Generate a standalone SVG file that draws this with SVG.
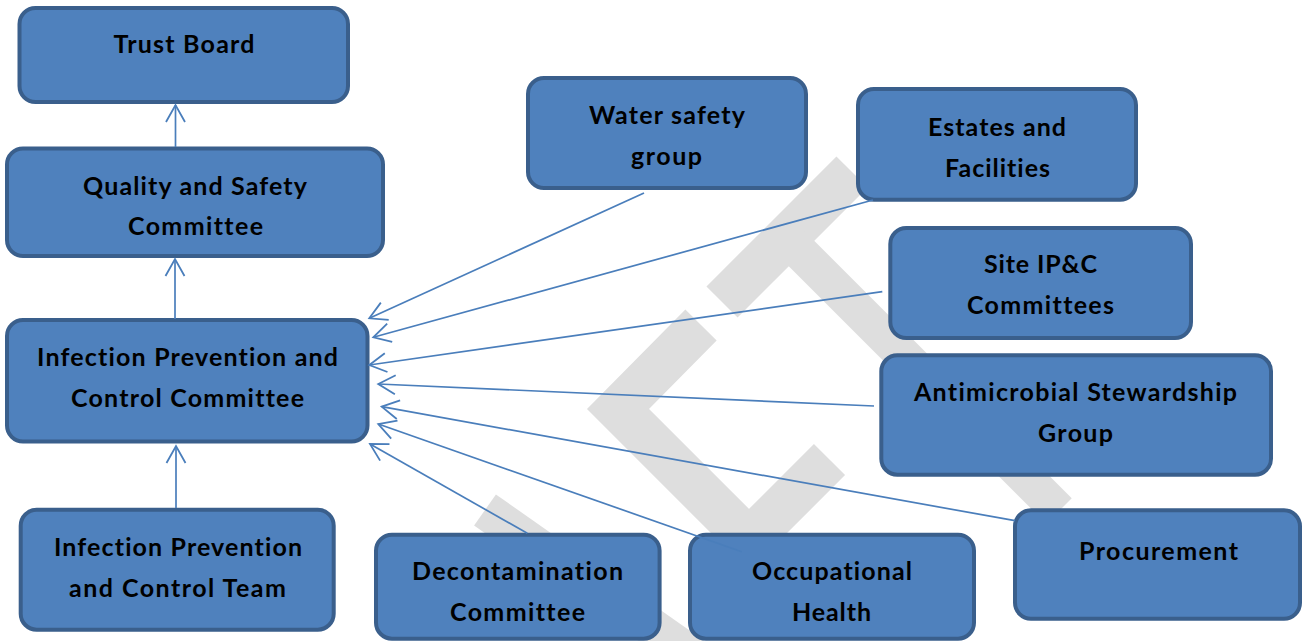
<svg xmlns="http://www.w3.org/2000/svg" width="1303" height="641" viewBox="0 0 1303 641">
<defs>
<style>
.box rect{fill:#4f81bd;stroke:#3a5f8c;stroke-width:4}
.box text{font-family:"Lato","Open Sans",sans-serif;font-weight:bold;font-size:25px;fill:#000;text-anchor:middle;font-variant-ligatures:none;font-feature-settings:"liga" 0}
.wm{fill:none;stroke:#dedede;stroke-linecap:butt;stroke-linejoin:miter}
.conn line{stroke:#4a7ebb;stroke-width:1.7;marker-end:url(#ah)}
</style>
<marker id="ah" markerUnits="userSpaceOnUse" markerWidth="22" markerHeight="22" refX="18" refY="10" orient="auto" overflow="visible">
<path d="M1,0.5 L18,10 L1,19.5" fill="none" stroke="#4a7ebb" stroke-width="1.8"/>
</marker>
</defs>
<rect width="1303" height="641" fill="#fff"/>
<g id="watermark">
<line class="wm" x1="852" y1="172" x2="722" y2="302" stroke-width="44"/>
<line class="wm" x1="792" y1="244" x2="1059" y2="511" stroke-width="36"/>
<polyline class="wm" points="701,325 618,409 749,540 829.5,459.5" stroke-width="44"/>
<line class="wm" x1="485" y1="510" x2="710" y2="668" stroke-width="38"/>
</g>
<g id="trust" class="box"><rect x="19.5" y="8" width="328.5" height="94" rx="16"/><text x="184" y="53" textLength="141">Trust Board</text></g>
<g id="qsc" class="box"><rect x="7" y="148.5" width="376" height="107.5" rx="16"/><text x="195" y="194.5" textLength="224">Quality and Safety</text><text x="195.5" y="235" textLength="135">Committee</text></g>
<g id="ipcc" class="box"><rect x="7" y="320" width="360.5" height="121.5" rx="16"/><text x="187.5" y="366" textLength="301">Infection Prevention and</text><text x="187.5" y="406.5" textLength="233">Control Committee</text></g>
<g id="ipct" class="box"><rect x="20.7" y="509.7" width="313" height="120" rx="16"/><text x="178" y="556" textLength="248">Infection Prevention</text><text x="177.5" y="596.5" textLength="217">and Control Team</text></g>
<g id="decon" class="box"><rect x="376" y="534.7" width="283.6" height="104" rx="16"/><text x="517.5" y="580" textLength="211">Decontamination</text><text x="517.5" y="621" textLength="135">Committee</text></g>
<g id="occ" class="box"><rect x="690" y="534.7" width="284" height="104" rx="16"/><text x="832" y="580" textLength="160">Occupational</text><text x="831.5" y="621" textLength="79">Health</text></g>
<g id="proc" class="box"><rect x="1015" y="510.3" width="285" height="108.5" rx="16"/><text x="1158.5" y="560" textLength="159">Procurement</text></g>
<g id="ams" class="box"><rect x="881.3" y="355.3" width="389.7" height="119.4" rx="16"/><text x="1075.5" y="401" textLength="323">Antimicrobial Stewardship</text><text x="1075.5" y="442" textLength="75">Group</text></g>
<g id="site" class="box"><rect x="890.3" y="228" width="300.7" height="110" rx="16"/><text x="1040.5" y="273" textLength="113">Site IP&amp;C</text><text x="1040.5" y="314" textLength="147">Committees</text></g>
<g id="estates" class="box"><rect x="858" y="89" width="278" height="110.7" rx="16"/><text x="997" y="136" textLength="138">Estates and</text><text x="997.5" y="177" textLength="105">Facilities</text></g>
<g id="water" class="box"><rect x="528" y="78" width="278" height="110" rx="16"/><text x="667" y="124" textLength="156">Water safety</text><text x="666.5" y="165" textLength="71">group</text></g>
<g id="connectors" class="conn">
<line x1="175.5" y1="147" x2="175.5" y2="105"/>
<line x1="175" y1="319" x2="175" y2="259"/>
<line x1="176" y1="508" x2="176" y2="446"/>
<line x1="644" y1="193" x2="369.3" y2="318.3"/>
<line x1="873" y1="200" x2="373.3" y2="337.3"/>
<line x1="882.3" y1="291.7" x2="369.3" y2="365"/>
<line x1="874" y1="406" x2="378.3" y2="384"/>
<line x1="1015" y1="520.7" x2="381.7" y2="406.7"/>
<line x1="741.7" y1="551.7" x2="378.3" y2="424"/>
<line x1="527.3" y1="533.3" x2="370" y2="444"/>
</g>
</svg>
